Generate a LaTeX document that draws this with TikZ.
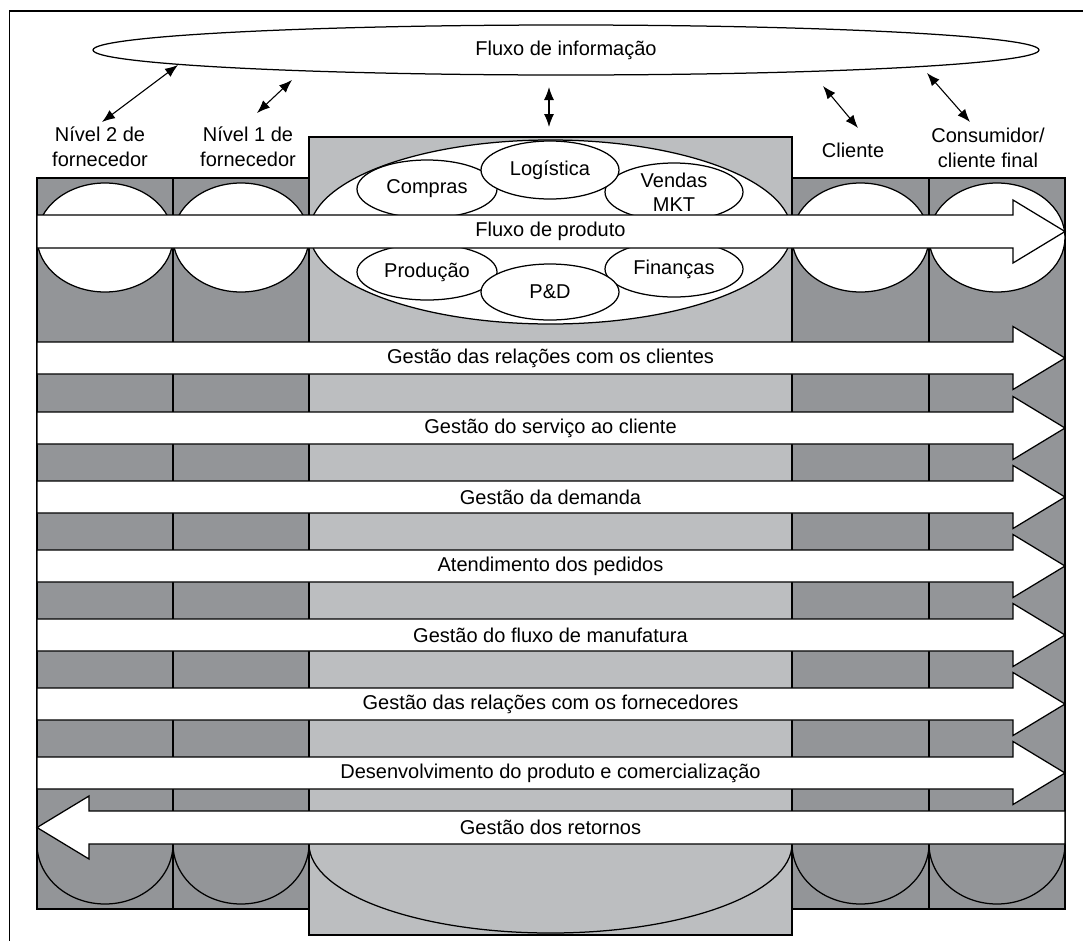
\documentclass[tikz,border=0pt]{standalone}
\usepackage{fontspec}
\setmainfont{Liberation Sans}
\usetikzlibrary{shapes.geometric,arrows.meta}
\definecolor{darkcol}{RGB}{147,149,152}
\definecolor{lightcol}{RGB}{188,190,192}
\begin{document}
\begin{tikzpicture}[x=1pt,y=-1pt,line width=1.25pt,line join=miter,
  lbl/.style={font=\fontsize{20}{25}\selectfont,align=center,inner sep=0pt},
  oval/.style={ellipse,draw,fill=white,inner sep=0pt,font=\fontsize{20}{24.5}\selectfont,align=center},
  dcol/.style={fill=darkcol,draw},
  lcol/.style={fill=lightcol,draw},
  bararrow/.style={fill=white,draw},
  flowarrow/.style={{Latex[length=13pt,width=10pt]}-{Latex[length=13pt,width=10pt]},line width=1.1pt}
]
\useasboundingbox (0,0) rectangle (1083,940);
% outer frame
\draw (9.5,945) -- (9.5,11) -- (1090,11);

% information flow
\node[oval,minimum width=946pt,minimum height=50pt] (info) at (566,50) {Fluxo de informação};

% labels
\node[lbl] (n2) at (100,147) {Nível 2 de\\fornecedor};
\node[lbl] (n1) at (248,147) {Nível 1 de\\fornecedor};
\node[lbl] (cli) at (853,150) {Cliente};
\node[lbl] (cons) at (988,148) {Consumidor/\\cliente final};

% double arrows
\coordinate (i1) at (178,65);  \coordinate (e1) at (102,122);
\coordinate (i2) at (292,80);  \coordinate (e2) at (257,113);
\coordinate (i3) at (549,87);  \coordinate (e3) at (549,127);
\coordinate (i4) at (823,86);  \coordinate (e4) at (858,128);
\coordinate (i5) at (927,73);  \coordinate (e5) at (970,122);
\foreach \k in {1,...,5} {\draw[flowarrow] (i\k) -- (e\k);}

% columns
\draw[lcol] (309,137) rectangle (792,935);
\draw[dcol] (37,178) rectangle (173,909);
\draw[dcol] (173,178) rectangle (309,909);
\draw[dcol] (792,178) rectangle (929,909);
\draw[dcol] (929,178) rectangle (1065,909);

% product flow ovals in dark columns
\foreach \cx/\r in {105/68,241/68,860.5/68.5,997/68}
  {\draw[fill=white] (\cx,237.5) ellipse [x radius=\r pt,y radius=54.5pt];}

% company oval
\draw[fill=white] (550.5,232) ellipse [x radius=241pt,y radius=92pt];
\node[oval,minimum width=140pt,minimum height=58pt] (compras) at (427,189) {Compras};
\node[oval,minimum width=138pt,minimum height=58pt] (vendas) at (674,192) {Vendas\\MKT};
\node[oval,minimum width=140pt,minimum height=56pt] (producao) at (427,272) {Produção};
\node[oval,minimum width=138pt,minimum height=56pt] (financas) at (674,269) {Finanças};
\node[oval,minimum width=138pt,minimum height=58pt] (logistica) at (550,170) {Logística};
\node[oval,minimum width=138pt,minimum height=56pt] (ped) at (550,292) {P\&D};

% bottom arcs
\foreach \lx/\r in {37/68,173/68,792/68.5,929/68}
  {\draw (\lx,844) arc[start angle=180,end angle=360,x radius=\r pt,y radius=60pt];}
\draw (309,844) arc[start angle=180,end angle=360,x radius=241.5pt,y radius=89pt];

% product flow arrow
\draw[bararrow] (37,215) -- (1013,215) -- (1013,200) -- (1065,231.5) -- (1013,263) -- (1013,248) -- (37,248) -- cycle;
\node[lbl] (prod) at (550.5,231.5) {Fluxo de produto};

% process arrows
\foreach \c/\t/\n in {358/Gestão das relações com os clientes/p1,
                      428/Gestão do serviço ao cliente/p2,
                      497/Gestão da demanda/p3,
                      566/Atendimento dos pedidos/p4,
                      635/Gestão do fluxo de manufatura/p5,
                      704/Gestão das relações com os fornecedores/p6,
                      773/Desenvolvimento do produto e comercialização/p7} {
  \draw[bararrow] (37,\c-16) -- (1013,\c-16) -- (1013,\c-31.5) -- (1065,\c) -- (1013,\c+31.5) -- (1013,\c+16) -- (37,\c+16) -- cycle;
  \node[lbl] (\n) at (550.5,\c) {\t};
}

% returns arrow
\draw[bararrow] (1065,811) -- (89,811) -- (89,796) -- (37,827.5) -- (89,859) -- (89,844) -- (1065,844) -- cycle;
\node[lbl] (ret) at (550.5,827.5) {Gestão dos retornos};
\end{tikzpicture}
\end{document}
